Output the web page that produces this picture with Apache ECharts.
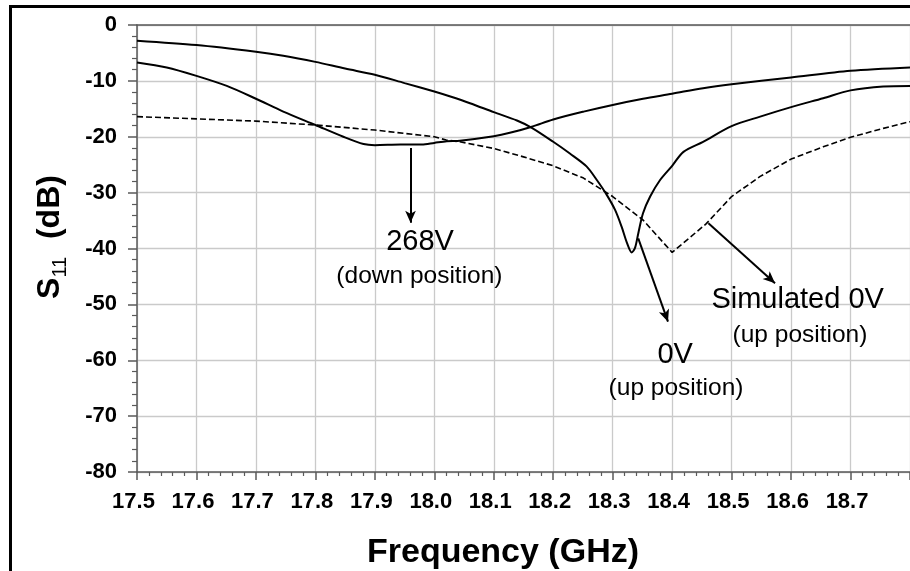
<!DOCTYPE html>
<html>
<head>
<meta charset="utf-8">
<script src="https://cdn.jsdelivr.net/npm/echarts@6/dist/echarts.min.js"></script>
<style>
  html, body { margin: 0; padding: 0; background: #fff; }
  #chart { width: 910px; height: 571px; }
</style>
</head>
<body>
<div id="chart"></div>
<script>
// Measured S11, switch in the up position (0 V bias)
const measured0VFreq = [17.5, 17.6, 17.7, 17.746, 17.8, 17.85, 17.9, 17.95, 18.0, 18.027, 18.06, 18.1, 18.139, 18.164, 18.2, 18.228, 18.256, 18.273, 18.29, 18.304, 18.315, 18.324, 18.332, 18.3375, 18.343, 18.351, 18.363, 18.38, 18.4, 18.419, 18.452, 18.5, 18.548, 18.6, 18.654, 18.7, 18.755, 18.8];
const measured0VdB   = [-2.8, -3.6, -4.8, -5.5, -6.6, -7.8, -8.9, -10.4, -11.9, -12.8, -14.0, -15.6, -17.1, -18.4, -20.9, -23.0, -25.3, -27.7, -30.4, -33.1, -36.1, -39.0, -40.7, -39.9, -37.3, -33.7, -30.7, -27.7, -25.2, -22.7, -20.9, -18.1, -16.4, -14.7, -13.1, -11.7, -11.0, -10.9];

// Measured S11, switch in the down position (268 V bias)
const measured268VFreq = [17.5, 17.55, 17.6, 17.651, 17.7, 17.746, 17.8, 17.847, 17.881, 17.9, 17.943, 17.979, 18.0, 18.021, 18.043, 18.1, 18.127, 18.164, 18.2, 18.251, 18.3, 18.351, 18.4, 18.452, 18.5, 18.6, 18.7, 18.8];
const measured268VdB   = [-6.7, -7.6, -9.1, -10.9, -13.2, -15.5, -17.9, -20.0, -21.3, -21.5, -21.4, -21.4, -21.1, -20.8, -20.7, -19.9, -19.3, -18.2, -16.9, -15.5, -14.3, -13.2, -12.3, -11.3, -10.6, -9.4, -8.2, -7.6];

// Simulated S11, up position (0 V)
const simulated0VFreq = [17.5, 17.6, 17.7, 17.8, 17.9, 18.0, 18.02, 18.043, 18.1, 18.15, 18.2, 18.251, 18.3, 18.351, 18.4, 18.457, 18.5, 18.548, 18.6, 18.654, 18.7, 18.755, 18.8];
const simulated0VdB   = [-16.4, -16.8, -17.2, -17.9, -18.8, -20.0, -20.6, -20.9, -22.1, -23.6, -25.2, -27.4, -30.7, -34.9, -40.7, -35.6, -30.7, -27.1, -24.0, -21.8, -20.1, -18.5, -17.3];

// Axis ranges and ticks
const freqMin = 17.5, freqMax = 18.8, freqStep = 0.1;
const dbMin = -80, dbMax = 0, dbStep = 10;

// Callout arrows: [start, tip] in (GHz, dB)
const arrow268V      = [[17.960, -22.0], [17.960, -35.4]];
const arrow0V        = [[18.343, -38.2], [18.393, -53.1]];
const arrowSimulated = [[18.461, -35.5], [18.573, -46.2]];

// Callout texts: [GHz, dB, text, size]
const callouts = [
  [17.976, -38.8, '268V', 29],
  [17.975, -44.9, '(down position)', 24.5],
  [18.405, -59.0, '0V', 29],
  [18.4065, -65.1, '(up position)', 24.5],
  [18.611, -49.2, 'Simulated 0V', 29],
  [18.615, -55.6, '(up position)', 24.5]
];

const FONT = '"Liberation Sans", Arial, Helvetica, sans-serif';
const zip = (xs, ys) => xs.map((x, i) => [x, ys[i]]);

const chart = echarts.init(document.getElementById('chart'), null, { renderer: 'canvas' });

const arrowMark = (seg) => ({
  silent: true,
  symbol: ['none', 'arrow'],
  symbolSize: [8, 12],
  label: { show: false },
  lineStyle: { color: '#000', width: 2, type: 'solid' },
  emphasis: { disabled: true },
  data: [[{ coord: seg[0] }, { coord: seg[1] }]]
});

const axisGrey = '#5a5a5a';

chart.setOption({
  animation: false,
  backgroundColor: '#fff',
  grid: { left: 137, right: 0, top: 25, bottom: 99, containLabel: false },
  xAxis: [{
    type: 'value',
    min: freqMin, max: freqMax, interval: freqStep,
    axisLine: { show: true, onZero: false, lineStyle: { color: axisGrey, width: 1.5 } },
    axisTick: { show: true, inside: false, length: 8, lineStyle: { color: axisGrey, width: 1.5 } },
    minorTick: { show: true, splitNumber: 5, length: 4, lineStyle: { color: axisGrey, width: 1.2 } },
    splitLine: { show: true, lineStyle: { color: '#cacaca', width: 1.3 } },
    axisLabel: {
      show: true, margin: 19, color: '#000', fontFamily: FONT, fontWeight: 'bold', fontSize: 22,
      padding: [0, 7, 0, 0], showMaxLabel: false,
      formatter: v => v.toFixed(1)
    }
  }, {
    type: 'value', position: 'top',
    min: freqMin, max: freqMax,
    axisLine: { show: true, lineStyle: { color: axisGrey, width: 1.5 } },
    axisTick: { show: false }, axisLabel: { show: false }, splitLine: { show: false }
  }],
  yAxis: {
    type: 'value',
    min: dbMin, max: dbMax, interval: dbStep,
    axisLine: { show: true, onZero: false, lineStyle: { color: axisGrey, width: 1.5 } },
    axisTick: { show: true, inside: false, length: 9, lineStyle: { color: axisGrey, width: 1.5 } },
    minorTick: { show: true, splitNumber: 5, length: 5, lineStyle: { color: axisGrey, width: 1.2 } },
    splitLine: { show: true, lineStyle: { color: '#cacaca', width: 1.3 } },
    axisLabel: {
      margin: 20, color: '#000', fontFamily: FONT, fontWeight: 'bold', fontSize: 22,
      padding: [7, 0, 0, 0]
    }
  },
  series: [{
    name: '0V (up position)', type: 'line', xAxisIndex: 0,
    data: zip(measured0VFreq, measured0VdB),
    symbol: 'none', smooth: 0.3,
    lineStyle: { color: '#000', width: 2 },
    markLine: arrowMark(arrow0V)
  }, {
    name: '268V (down position)', type: 'line', xAxisIndex: 0,
    data: zip(measured268VFreq, measured268VdB),
    symbol: 'none', smooth: 0.3,
    lineStyle: { color: '#000', width: 2 },
    markLine: arrowMark(arrow268V)
  }, {
    name: 'Simulated 0V (up position)', type: 'line', xAxisIndex: 0,
    data: zip(simulated0VFreq, simulated0VdB),
    symbol: 'none', smooth: false,
    lineStyle: { color: '#000', width: 1.6, type: [6, 3] },
    markLine: arrowMark(arrowSimulated)
  }]
});

// Frame, axis titles and callout texts
const graphics = [{
  type: 'rect', silent: true, z: 100,
  shape: { x: 10.5, y: 6.5, width: 1200, height: 1200 },
  style: { fill: 'none', stroke: '#000', lineWidth: 3 }
}, {
  type: 'text', silent: true, z: 100,
  x: 49, y: 237, rotation: Math.PI / 2,
  style: {
    text: '{s|S}{sub|11}{n|  (dB)}',
    align: 'center', verticalAlign: 'middle',
    rich: {
      s: { fontFamily: FONT, fontWeight: 'bold', fontSize: 32, fill: '#000', lineHeight: 35, verticalAlign: 'bottom' },
      sub: { fontFamily: FONT, fontWeight: 'normal', fontSize: 20, fill: '#000', lineHeight: 35, verticalAlign: 'bottom', padding: [0, 0, -4, 0] },
      n: { fontFamily: FONT, fontWeight: 'bold', fontSize: 32, fill: '#000', lineHeight: 35, verticalAlign: 'bottom' }
    }
  }
}, {
  type: 'text', silent: true, z: 100,
  x: 503, y: 553,
  style: {
    text: 'Frequency (GHz)', fontFamily: FONT, fontWeight: 'bold', fontSize: 34,
    fill: '#000', align: 'center', verticalAlign: 'middle'
  }
}];

callouts.forEach(([f, db, txt, size]) => {
  const p = chart.convertToPixel({ xAxisIndex: 0, yAxisIndex: 0 }, [f, db]);
  graphics.push({
    type: 'text', silent: true, z: 100,
    x: p[0], y: p[1],
    style: {
      text: txt, fontFamily: FONT, fontWeight: 'normal', fontSize: size,
      fill: '#000', align: 'center', verticalAlign: 'middle'
    }
  });
});

chart.setOption({ graphic: graphics });
</script>
</body>
</html>
